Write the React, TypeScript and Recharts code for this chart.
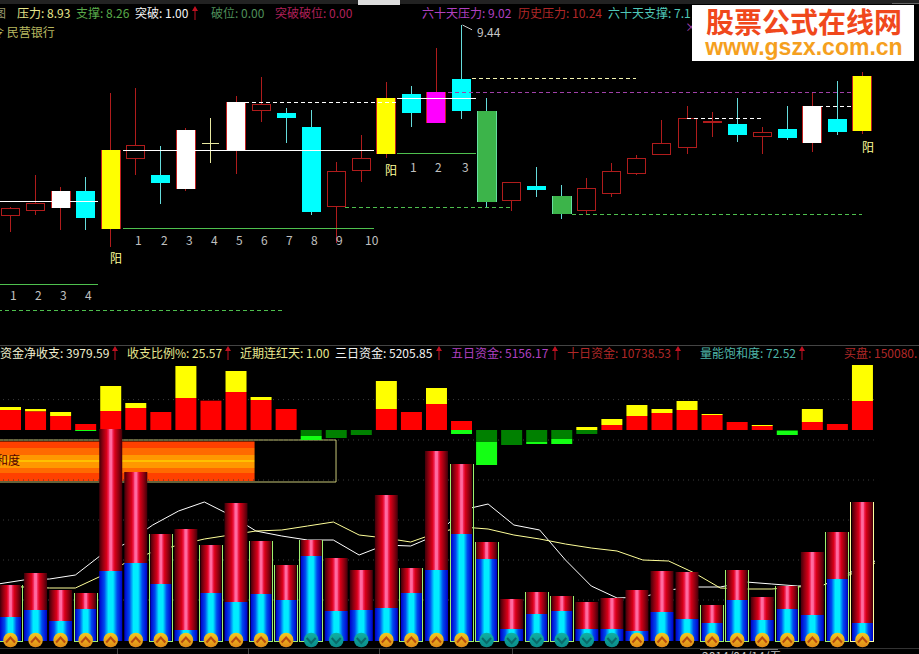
import { Bar, ComposedChart, Line, ReferenceArea, ReferenceLine, XAxis, YAxis } from 'recharts';

// candle data, one entry per trading day
const kinds = [
  'hollow', 'hollow', 'white', 'cyan', 'yellow', 'hollow', 'cyan', 'white', 'doji', 'white',
  'hollow', 'cyan', 'cyan', 'hollow', 'hollow', 'yellow', 'cyan', 'magenta', 'cyan', 'green',
  'hollow', 'cyan', 'green', 'hollow', 'hollow', 'hollow', 'hollow', 'hollow', 'hollow', 'cyan',
  'hollow', 'cyan', 'white', 'cyan', 'yellow',
];
const bodyTop = [
  8.287, 8.318, 8.399, 8.399, 8.657, 8.682, 8.5, 8.782, 8.7, 8.957,
  8.939, 8.889, 8.801, 8.519, 8.6, 8.983, 9.008, 9.02, 9.102, 8.901,
  8.45, 8.431, 8.368, 8.412, 8.519, 8.606, 8.7, 8.851, 8.838, 8.82,
  8.769, 8.788, 8.932, 8.851, 9.12,
];
const bodyBottom = [
  8.246, 8.274, 8.293, 8.23, 8.161, 8.6, 8.45, 8.412, 8.7, 8.653,
  8.901, 8.857, 8.268, 8.299, 8.525, 8.631, 8.889, 8.826, 8.901, 8.33,
  8.337, 8.406, 8.255, 8.274, 8.381, 8.512, 8.631, 8.675, 8.826, 8.751,
  8.744, 8.732, 8.7, 8.769, 8.776,
];
const highs = [
  8.299, 8.5, 8.425, 8.487, 9.014, 9.045, 8.682, 8.794, 8.857, 8.995,
  9.114, 8.92, 8.907, 8.581, 8.751, 9.083, 9.058, 9.296, 9.44, 8.983,
  8.45, 8.55, 8.437, 8.481, 8.575, 8.625, 8.845, 8.932, 8.895, 8.983,
  8.801, 8.932, 9.014, 9.089, 9.146,
];
const lows = [
  8.142, 8.249, 8.155, 8.155, 8.048, 8.5, 8.318, 8.399, 8.575, 8.506,
  8.832, 8.7, 8.249, 8.073, 8.456, 8.606, 8.801, 8.826, 8.851, 8.299,
  8.274, 8.362, 8.224, 8.249, 8.362, 8.5, 8.631, 8.631, 8.738, 8.707,
  8.631, 8.719, 8.644, 8.751, 8.757,
];

// net money flow, stacked around zero
const moneyRed = [
  1200, 1120, 840, 360, 1140, 1320, 1080, 1920, 1760, 2280,
  1800, 1260, 0, 0, 0, 1260, 1080, 1560, 540, 0,
  0, 0, 0, 0, 300, 840, 1020, 1200, 900, 480,
  240, 0, 480, 360, 1740,
];
const moneyYellow = [
  180, 140, 240, 0, 1500, 300, 0, 1920, 0, 1260,
  180, 0, 0, 0, 0, 1680, 0, 960, 0, 0,
  0, 0, 0, 180, 360, 660, 240, 540, 60, 0,
  60, 0, 780, 0, 2160,
];
const moneyDark = [
  0, 0, 0, 0, 0, 0, 0, 0, 0, 0,
  0, 0, -360, -480, -300, 0, 0, 0, 0, -720,
  -900, -720, -540, -240, 0, 0, 0, 0, 0, 0,
  0, -60, 0, 0, 0,
];
const moneyBright = [
  0, 0, 0, -60, 0, 0, 0, 0, 0, 0,
  0, 0, -240, 0, 0, 0, 0, 0, -240, -1380,
  0, -120, -300, 0, 0, 0, 0, 0, 0, 0,
  0, -240, 0, 0, 0,
];

// volume panel
const volTotal = [
  56000, 68000, 51000, 48000, 212000, 169000, 107000, 112000, 96000, 138000,
  100000, 76000, 101000, 83000, 71000, 146000, 73000, 190000, 177000, 99000,
  42000, 49000, 45000, 39000, 43000, 51000, 70000, 69000, 36000, 71000,
  44000, 55000, 89000, 109000, 139000,
];
const volBuy = [
  24000, 31000, 20000, 32000, 70000, 78000, 57000, 11000, 48000, 39000,
  47000, 41000, 85000, 30000, 31000, 33000, 48000, 71000, 107000, 82000,
  12000, 27000, 30000, 12000, 12000, 10000, 29000, 22000, 18000, 41000,
  21000, 32000, 26000, 62000, 18000,
];
const volEdge = [
  'g', '', '', 'g', '', '', 'g', '', 'g', '',
  'g', 'g', 'g', '', '', '', 'g', '', 'g', 'g',
  '', 'g', 'g', '', '', '', '', '', 'g', 'g',
  '', 'g', '', 'g', 'y',
];
const signal = [
  1, 1, 1, 1, 1, 1, 1, 1, 1, 1,
  1, 1, -1, -1, -1, 1, 1, 1, 1, -1,
  -1, -1, -1, -1, -1, 1, 1, 1, 1, 1,
  1, 1, 1, 1, 1,
];
const lineWhite = [
  57000, 61000, 62000, 66000, 86000, 98000, 116000, 130000, 139000, 126000,
  110000, 105000, 101000, 101000, 86000, 96000, 95000, 106000, 131000, 137000,
  116000, 111000, 81000, 55000, 43000, 44000, 51000, 54000, 54000, 59000,
  57000, 55000, 56000, 68000, 80000,
];
const lineYellow = [
  55000, 54000, 53000, 53000, 65000, 79000, 89000, 96000, 102000, 106000,
  110000, 111000, 115000, 119000, 106000, 103000, 99000, 108000, 114000, 112000,
  106000, 102000, 97000, 93000, 90000, 81000, 80000, 68000, 53000, 52000,
  52000, 54000, 56000, 66000, 78000,
];

const volGrid = [241400, 201000, 161000, 121000, 81000, 41000];
const priceGrid = [8.769, 7.888];
const saturationEnd = 9.74;

// [from bar, to bar, price, colour, dash]
const priceSegments: [number, number, number, string, string][] = [
  [4.47, 14.52, 8.653, '#ffffff', ''],
  [-0.5, 3.51, 8.334, '#ffffff', ''],
  [15.44, 18.56, 8.979, '#ffffff', ''],
  [4.47, 14.52, 8.164, '#4ec04e', ''],
  [-0.5, 3.51, 7.813, '#4ec04e', ''],
  [15.44, 18.56, 8.635, '#4ec04e', ''],
  [13.33, 20, 8.296, '#4ec04e', '4 3'],
  [-0.5, 10.97, 7.647, '#4ec04e', '4 3'],
  [22.39, 34, 8.255, '#4ec04e', '4 3'],
  [9.34, 15.44, 8.957, '#ffffff', '4 3'],
  [18.4, 24.98, 9.102, '#f4f4b0', '4 3'],
  [26.98, 29.97, 8.851, '#ffffff', '4 3'],
  [32.28, 33.68, 8.929, '#ffffff', '4 3'],
  [17.44, 33.68, 9.017, '#a040a8', '4 3'],
];

const tableData = kinds.map((kind, i) => ({
  day: i,
  kind,
  top: bodyTop[i],
  bottom: bodyBottom[i],
  high: highs[i],
  low: lows[i],
  red: moneyRed[i],
  yellow: moneyYellow[i],
  dark: moneyDark[i],
  bright: moneyBright[i],
  vol: volTotal[i],
  buy: volBuy[i],
  edge: volEdge[i],
  signal: signal[i],
  white: lineWhite[i],
  pale: lineYellow[i],
}));

const FONT = '"Noto Sans CJK SC", "Noto Sans", sans-serif';
const WIDTH = 921;
const HEIGHT = 654;
const MARGIN = { top: 0, right: 44, left: 0, bottom: 0 };

const BODY: Record<string, string> = {
  hollow: '#000000', white: '#ffffff', cyan: '#00ffff', yellow: '#ffff00',
  magenta: '#ff00ff', green: '#3cb44a', doji: '#e8e8a0',
};

function Candle(props: any) {
  const { x, y, width, height, payload } = props;
  const range = payload.high - payload.low;
  const at = (v: number) => y + ((payload.high - v) / range) * height;
  const cx = x + width / 2;
  const top = at(payload.top);
  const bottom = at(payload.bottom);
  const kind = payload.kind;
  const cool = kind === 'cyan' || kind === 'green';
  const wick = kind === 'doji' ? '#e8e8a0' : cool ? '#66dcdc' : '#b01c1c';
  const side = kind === 'green' ? '#66e0a0' : '#c02020';

  return (
    <g shapeRendering="crispEdges">
      <line x1={cx} x2={cx} y1={y} y2={y + height} stroke={wick} strokeWidth={1} />
      {kind === 'doji' && <line x1={x + 1} x2={x + width - 1} y1={top} y2={top} stroke={wick} />}
      {kind === 'hollow' && (
        <rect x={x + 0.5} y={top} width={width - 1} height={bottom - top} fill="#000" stroke="#b01c1c" />
      )}
      {kind === 'cyan' && <rect x={x} y={top} width={width} height={bottom - top} fill={BODY.cyan} />}
      {(kind === 'white' || kind === 'yellow' || kind === 'magenta' || kind === 'green') && (
        <g>
          <rect x={x + 0.5} y={top} width={width - 1} height={bottom - top} fill={BODY[kind]} />
          <line x1={x} x2={x} y1={top} y2={bottom} stroke={side} />
          <line x1={x + width} x2={x + width} y1={top} y2={bottom} stroke={side} />
        </g>
      )}
    </g>
  );
}

function VolumeBar(props: any) {
  const { x, y, width, height, payload } = props;
  const split = y + height * (1 - payload.buy / payload.vol);
  const bottom = y + height;
  const cx = x + width / 2;
  const cy = bottom - 1;
  const edge = payload.edge === 'g' ? '#a0f070' : payload.edge === 'y' ? '#ffffa0' : '';
  const inset = edge ? 1 : 0;
  const up = payload.signal > 0;

  return (
    <g>
      <rect x={x + inset} y={y} width={width - inset * 2} height={split - y} fill="url(#volRed)" />
      <rect x={x + inset} y={split} width={width - inset * 2} height={bottom - split} fill="url(#volBlue)" />
      {edge && (
        <path d={`M${x},${y}V${bottom}H${x + width}V${y}`} fill="none" stroke={edge} strokeWidth={1} shapeRendering="crispEdges" />
      )}
      <circle cx={cx} cy={cy} r={7.3} fill={up ? 'url(#signalUp)' : 'url(#signalDown)'} />
      <path
        d={up
          ? `M${cx - 4.5},${cy + 2.5}L${cx},${cy - 2.5}L${cx + 4.5},${cy + 2.5}`
          : `M${cx - 4.5},${cy - 2}L${cx},${cy + 3}L${cx + 4.5},${cy - 2}`}
        fill="none"
        stroke={up ? '#b84a10' : '#0a6a6a'}
        strokeWidth={2}
      />
    </g>
  );
}

function Layer({ children, ...rest }: any) {
  return (
    <div style={{ position: 'absolute', left: -1.53, top: 0 }}>
      <ComposedChart width={WIDTH} height={HEIGHT} data={tableData} margin={MARGIN} {...rest}>
        <XAxis xAxisId="cat" dataKey="day" type="category" hide />
        <XAxis xAxisId="idx" dataKey="day" type="number" domain={[-0.5, 34.5]} allowDataOverflow hide />
        {children}
      </ComposedChart>
    </div>
  );
}

const labels: [string, number, number, string][] = [
  ['图', -6, 13, '#9a9a70'],
  ['压力: 8.93', 17, 13, '#e6e68c'],
  ['支撑: 8.26', 76, 13, '#5aaa4b'],
  ['突破: 1.00', 135, 13, '#f4f4f4'],
  ['破位: 0.00', 211, 13, '#4f8f5a'],
  ['突破破位: 0.00', 275, 13, '#b0205a'],
  ['六十天压力: 9.02', 422, 13, '#b040c0'],
  ['历史压力: 10.24', 518, 13, '#b02828'],
  ['六十天支撑: 7.1', 608, 13, '#50c8b8'],
  ['×', 685, 27, '#a040a8'],
  ['令 民营银行', -8, 32, '#b8b860'],
  ['9.44', 477, 32, '#c8c8c8'],
  ['阳', 110, 258, '#ffff99'],
  ['阳', 385, 170, '#ffff99'],
  ['阳', 862, 147, '#ffff99'],
  ['资金净收支: 3979.59', 0, 353, '#f0f0d0'],
  ['收支比例%: 25.57', 127, 353, '#e8e890'],
  ['近期连红天: 1.00', 240, 353, '#e8e890'],
  ['三日资金: 5205.85', 335, 353, '#f4f4f4'],
  ['五日资金: 5156.17', 451, 353, '#b040c0'],
  ['十日资金: 10738.53', 567, 353, '#b02828'],
  ['量能饱和度: 72.52', 700, 353, '#4fb5a8'],
  ['买盘: 150080.', 844, 353, '#b02828'],
  ['和度', -4, 460, '#500000'],
  ['2014/04/14/五', 702, 656, '#c0c0c0'],
];
const arrows: [number, number][] = [[195, 13], [115, 353], [228, 353], [439, 353], [555, 353], [678, 353], [802, 353]];
const tickRows: [string[], number[], number][] = [
  [['1', '2', '3', '4', '5', '6', '7', '8', '9', '10'], [138, 164, 189, 214, 239, 264, 289, 314, 339, 368], 240],
  [['1', '2', '3', '4'], [13, 38, 63, 88], 295],
  [['1', '2', '3'], [413, 438, 465], 167],
];

function Strip({ x, y, w, h, c }: { x: number; y: number; w: number; h: number; c: string }) {
  return <div style={{ position: 'absolute', left: x, top: y, width: w, height: h, background: c }} />;
}

function Label({ text, x, y, color }: { text: string; x: number; y: number; color: string }) {
  return (
    <div style={{ position: 'absolute', left: x, top: y - 6, height: 12, lineHeight: '12px', fontSize: 12, color, whiteSpace: 'pre', fontFamily: FONT }}>
      {text}
    </div>
  );
}

function Arrow({ x, y }: { x: number; y: number }) {
  return (
    <svg style={{ position: 'absolute', left: x - 4, top: y - 8 }} width={8} height={16}>
      <path d="M4,1L1,6H3.5V15H4.5V6H7Z" fill="#c01020" />
    </svg>
  );
}

export default function App() {
  return (
    <div style={{ position: 'absolute', left: 0, top: 0, width: 919, height: 654, background: '#000', overflow: 'hidden' }}>
      {/* saturation box, dotted grid, moving lines: they sit behind everything */}
      <Layer>
        <defs>
          <linearGradient id="satFill" x1="0" y1="0" x2="0" y2="1">
            <stop offset="0" stopColor="#ff4000" />
            <stop offset="0.16" stopColor="#ff4000" />
            <stop offset="0.16" stopColor="#ff6a00" />
            <stop offset="0.33" stopColor="#ff6a00" />
            <stop offset="0.33" stopColor="#ff9800" />
            <stop offset="0.48" stopColor="#ff9800" />
            <stop offset="0.48" stopColor="#ffc000" />
            <stop offset="0.52" stopColor="#ffc000" />
            <stop offset="0.52" stopColor="#ff9800" />
            <stop offset="0.66" stopColor="#ff9800" />
            <stop offset="0.66" stopColor="#ff6a00" />
            <stop offset="0.8" stopColor="#ff6a00" />
            <stop offset="0.8" stopColor="#ff4000" />
            <stop offset="1" stopColor="#ff4000" />
          </linearGradient>
        </defs>
        <YAxis yAxisId="vol" domain={[-13000, 641000]} hide />
        <YAxis yAxisId="price" domain={[5.496, 9.597]} hide />
        {priceGrid.map((v) => (
          <ReferenceLine key={v} xAxisId="idx" yAxisId="price" y={v} stroke="#3c3c3c" strokeDasharray="1 4" />
        ))}
        {volGrid.map((v) => (
          <ReferenceLine key={v} xAxisId="idx" yAxisId="vol" y={v} stroke="#3c3c3c" strokeDasharray="1 4" />
        ))}
        <ReferenceArea xAxisId="idx" yAxisId="vol" x1={-0.5} x2={saturationEnd} y1={160000} y2={199500} fill="url(#satFill)" fillOpacity={1} stroke="none" ifOverflow="visible" />
        <ReferenceArea xAxisId="idx" yAxisId="vol" x1={-1} x2={12.99} y1={159000} y2={201000} fill="none" stroke="#c8c878" ifOverflow="visible" />
        <Line xAxisId="cat" yAxisId="vol" dataKey="white" stroke="#ffffff" dot={false} strokeWidth={1} isAnimationActive={false} />
        <Line xAxisId="cat" yAxisId="vol" dataKey="pale" stroke="#ffff99" dot={false} strokeWidth={1} isAnimationActive={false} />
      </Layer>

      {/* candles */}
      <Layer>
        <YAxis yAxisId="price" domain={[5.496, 9.597]} hide />
        <Bar
          xAxisId="cat"
          yAxisId="price"
          dataKey={(d: any) => [d.low, d.high]}
          barSize={19}
          shape={Candle}
          isAnimationActive={false}
        />
        {priceSegments.map(([from, to, price, color, dash], i) => (
          <ReferenceLine
            key={i}
            xAxisId="idx"
            yAxisId="price"
            segment={[{ x: from, y: price }, { x: to, y: price }]}
            stroke={color}
            strokeDasharray={dash}
            strokeWidth={1}
            shapeRendering="crispEdges"
            ifOverflow="visible"
          />
        ))}
        {/* small pointer to the 9.44 high */}
        <ReferenceLine
          xAxisId="idx"
          yAxisId="price"
          segment={[{ x: 18.04, y: 9.44 }, { x: 18.42, y: 9.41 }]}
          stroke="#c8c8c8"
          ifOverflow="visible"
        />
      </Layer>

      {/* money flow */}
      <Layer stackOffset="sign">
        <YAxis yAxisId="money" domain={[-13440, 25800]} hide />
        <Bar xAxisId="cat" yAxisId="money" dataKey="red" stackId="m" fill="#ff0000" barSize={21} isAnimationActive={false} />
        <Bar xAxisId="cat" yAxisId="money" dataKey="yellow" stackId="m" fill="#ffff00" barSize={21} isAnimationActive={false} />
        <Bar xAxisId="cat" yAxisId="money" dataKey="dark" stackId="m" fill="#008000" barSize={21} isAnimationActive={false} />
        <Bar xAxisId="cat" yAxisId="money" dataKey="bright" stackId="m" fill="#14ff14" barSize={21} isAnimationActive={false} />
      </Layer>

      {/* volume */}
      <Layer>
        <defs>
          <linearGradient id="volRed" x1="0" y1="0" x2="1" y2="0">
            <stop offset="0" stopColor="#400008" />
            <stop offset="0.16" stopColor="#900010" />
            <stop offset="0.32" stopColor="#d80018" />
            <stop offset="0.4" stopColor="#f02050" />
            <stop offset="0.46" stopColor="#ff6aa0" />
            <stop offset="0.54" stopColor="#ff6aa0" />
            <stop offset="0.6" stopColor="#f02050" />
            <stop offset="0.68" stopColor="#d80018" />
            <stop offset="0.84" stopColor="#900010" />
            <stop offset="1" stopColor="#400008" />
          </linearGradient>
          <linearGradient id="volBlue" x1="0" y1="0" x2="1" y2="0">
            <stop offset="0" stopColor="#0000c8" />
            <stop offset="0.22" stopColor="#0048f0" />
            <stop offset="0.4" stopColor="#00ecff" />
            <stop offset="0.6" stopColor="#00ecff" />
            <stop offset="0.78" stopColor="#0048f0" />
            <stop offset="1" stopColor="#0000c8" />
          </linearGradient>
          <linearGradient id="signalUp" x1="0" y1="0" x2="0" y2="1">
            <stop offset="0" stopColor="#f2cc20" />
            <stop offset="1" stopColor="#e08818" />
          </linearGradient>
          <linearGradient id="signalDown" x1="0" y1="0" x2="0" y2="1">
            <stop offset="0" stopColor="#10b0a4" />
            <stop offset="1" stopColor="#0a8a88" />
          </linearGradient>
        </defs>
        <YAxis yAxisId="vol" domain={[-13000, 641000]} hide />
        <Bar xAxisId="cat" yAxisId="vol" dataKey="vol" barSize={23} shape={VolumeBar} isAnimationActive={false} />
      </Layer>

      {/* window furniture */}
      <Strip x={0} y={0} w={919} h={4} c="#222222" />
      <Strip x={358} y={0} w={42} h={5} c="#dddddd" />
      <Strip x={892} y={3} w={27} h={1} c="#666666" />
      <Strip x={0} y={345} w={919} h={1} c="#444444" />
      <Strip x={0} y={648} w={919} h={1} c="#333333" />
      {[117, 248, 379, 512].map((x) => <Strip key={x} x={x} y={648} w={1} h={6} c="#444444" />)}
      <Strip x={700} y={649} w={78} h={1} c="#777777" />

      {labels.map(([text, x, y, color], i) => <Label key={i} text={text} x={x} y={y} color={color} />)}
      {arrows.map(([x, y], i) => <Arrow key={i} x={x} y={y} />)}
      {tickRows.map(([names, xs, y]) =>
        names.map((name, i) => <Label key={`${y}-${i}`} text={name} x={xs[i] - 3} y={y} color="#c0c0c0" />),
      )}

      {/* watermark */}
      <div style={{ position: 'absolute', left: 692, top: 5, width: 222, height: 56, background: '#fff', textAlign: 'center', fontFamily: FONT, fontWeight: 700 }}>
        <div style={{ position: 'absolute', left: 2, right: 0, top: 1, fontSize: 28, lineHeight: '30px', color: '#f0481c', whiteSpace: 'pre' }}>股票公式在线网</div>
        <div style={{ position: 'absolute', left: 2, right: 0, top: 31, fontSize: 23, lineHeight: '22px', color: '#f5a01e', whiteSpace: 'pre', fontFamily: '"Liberation Sans", sans-serif' }}>www.gszx.com.cn</div>
      </div>
    </div>
  );
}
